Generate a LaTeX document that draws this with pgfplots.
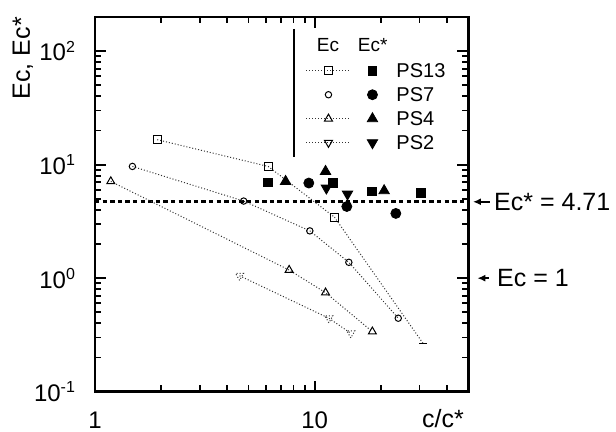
\documentclass[border=0pt]{standalone}
\usepackage{pgfplots}
\pgfplotsset{compat=1.18}
\usepackage{fontspec}
\setmainfont{Liberation Sans}
\usetikzlibrary{arrows.meta}
\pgfplotstableread{
x y
1.92 16.6
6.14 9.65
12.3 3.45
}\psopenA
\pgfplotstableread{
x y
1.48 9.65
4.75 4.78
9.5 2.61
14.3 1.38
24.0 0.444
}\psopenB
\pgfplotstableread{
x y
1.18 7.12
7.65 1.18
11.2 0.746
18.3 0.338
}\psopenC
\pgfplotstableread{
x y
4.55 1.05
11.6 0.444
14.6 0.327
}\psopenD
\pgfplotstableread{
x y
6.14 6.97
12.1 6.89
18.2 5.81
30.5 5.62
}\psfillA
\pgfplotstableread{
x y
9.4 6.89
14.0 4.28
23.4 3.72
}\psfillB
\pgfplotstableread{
x y
7.37 7.12
11.2 8.72
20.7 5.90
}\psfillC
\pgfplotstableread{
x y
11.3 6.22
14.1 5.51
}\psfillD
\begin{document}
\begin{tikzpicture}
\path[use as bounding box] (-47.5pt,-20.15pt) rectangle (260.5pt,195.85pt);
\begin{axis}[
  xmode=log, ymode=log,
  scale only axis, width=186.65pt, height=187.35pt,
  xmin=1, xmax=50, ymin=0.1, ymax=200,
  xtick={1,10}, xticklabels={1,10},
  minor xtick={2,3,4,5,6,7,8,9,20,30,40,50},
  ytick={0.1,1,10,100},
  yticklabels={10\textsuperscript{-1},10\textsuperscript{0},10\textsuperscript{1},10\textsuperscript{2}},
  minor ytick={0.2,0.3,0.4,0.5,0.6,0.7,0.8,0.9,2,3,4,5,6,7,8,9,20,30,40,50,60,70,80,90,200},
  tick align=inside,
  major tick length=5.5pt, minor tick length=3.2pt,
  every tick/.style={black, line width=0.9pt},
  axis line style={line width=1.3pt},
  tick label style={font=\fontsize{12}{14}\selectfont},
  xticklabel style={yshift=-6.5pt},
  yticklabel style={xshift=-6pt},
  xlabel={c/c*}, ylabel={Ec, Ec*},
  label style={font=\fontsize{12.5}{15}\selectfont},
  xlabel style={at={(axis description cs:0.932,-0.072)}, anchor=center, inner sep=0pt},
  ylabel style={at={(axis description cs:-0.193,0.89)}, anchor=center},
  clip=false,
  legend style={draw=none, fill=none, at={(axis description cs:0.548,0.895)}, anchor=north west,
    font=\fontsize{10}{12}\selectfont, row sep=2pt,
    nodes={inner sep=1pt, text height=7.2pt, text depth=0.8pt}},
  legend cell align=left,
  open/.style={densely dotted, line width=0.5pt, black!80, mark options={solid, black, fill=white, line width=0.5pt}},
]
% reference line Ec* = 4.71
\addplot[forget plot, black, line width=1.4pt, dash pattern=on 2.2pt off 1.6pt] coordinates {(1,4.71) (50,4.71)};
% Ec (open symbols)
\addplot[forget plot, open, mark=square, mark size=2pt] table {\psopenA};
\addplot[forget plot, densely dotted, line width=0.5pt, black!80] coordinates {(12.3,3.45) (31.1,0.267)};
\addplot[forget plot, only marks, mark=-, mark size=2pt, mark options={solid, black, line width=0.6pt}] coordinates {(31.1,0.267)};
\addplot[forget plot, open, mark=o, mark size=1.6pt] table {\psopenB};
\addplot[forget plot, open, mark=triangle, mark size=2.3pt] table {\psopenC};
\addplot[forget plot, open, mark=triangle, mark size=2.3pt, mark options={rotate=180}] table {\psopenD};
% Ec* (filled symbols)
\addplot[forget plot, only marks, mark=square*, mark size=2.2pt, black] table {\psfillA};
\addplot[forget plot, only marks, mark=*, mark size=2.5pt, black] table {\psfillB};
\addplot[forget plot, only marks, mark=triangle*, mark size=3pt, black] table {\psfillC};
\addplot[forget plot, only marks, mark=triangle*, mark size=3pt, black, mark options={rotate=180}] table {\psfillD};
% legend
\addlegendimage{legend image code/.code={
  \draw[densely dotted, line width=0.5pt, black!80] (0pt,0pt) -- (22pt,0pt);
  \draw[solid, line width=0.5pt, fill=white] plot[only marks, mark=square, mark size=2pt] coordinates {(11pt,0pt)};
  \fill[black] plot[only marks, mark=square*, mark size=2.2pt] coordinates {(33pt,0pt)};
  \path[draw=none, fill=none] (0pt,0pt) -- (44pt,0pt);}}
\addlegendentry{PS13}
\addlegendimage{legend image code/.code={
  \draw[solid, line width=0.5pt, fill=white] plot[only marks, mark=o, mark size=1.6pt] coordinates {(11pt,0pt)};
  \fill[black] plot[only marks, mark=*, mark size=2.5pt] coordinates {(33pt,0pt)};
  \path[draw=none, fill=none] (0pt,0pt) -- (44pt,0pt);}}
\addlegendentry{PS7}
\addlegendimage{legend image code/.code={
  \draw[densely dotted, line width=0.5pt, black!80] (0pt,0pt) -- (22pt,0pt);
  \draw[solid, line width=0.5pt, fill=white] plot[only marks, mark=triangle, mark size=2.3pt] coordinates {(11pt,0pt)};
  \fill[black] plot[only marks, mark=triangle*, mark size=3pt] coordinates {(33pt,0pt)};
  \path[draw=none, fill=none] (0pt,0pt) -- (44pt,0pt);}}
\addlegendentry{PS4}
\addlegendimage{legend image code/.code={
  \draw[densely dotted, line width=0.5pt, black!80] (0pt,0pt) -- (22pt,0pt);
  \draw[solid, line width=0.5pt, fill=white] plot[only marks, mark=triangle, mark size=2.3pt, mark options={rotate=180}] coordinates {(11pt,0pt)};
  \fill[black] plot[only marks, mark=triangle*, mark size=3pt, mark options={rotate=180}] coordinates {(33pt,0pt)};
  \path[draw=none, fill=none] (0pt,0pt) -- (44pt,0pt);}}
\addlegendentry{PS2}
% legend header and separator
\draw[line width=0.6pt] (axis description cs:0.533,0.968) -- (axis description cs:0.533,0.626);
\node[font=\fontsize{9.5}{11}\selectfont] at (axis description cs:0.624,0.925) {Ec};
\node[font=\fontsize{9.5}{11}\selectfont] at (axis description cs:0.744,0.925) {Ec*};
% right-hand annotations
\draw[line width=0.8pt, -{Latex[length=4pt,width=3.5pt]}] (axis cs:62.5,4.71) -- (axis cs:52.5,4.71);
\node[anchor=west, inner sep=1pt, font=\fontsize{12.5}{15}\selectfont] at (axis cs:64,4.71) {Ec* = 4.71};
\draw[line width=0.8pt, -{Latex[length=4pt,width=3.5pt]}] (axis cs:62,1) -- (axis cs:55,1);
\node[anchor=west, inner sep=1pt, font=\fontsize{12.5}{15}\selectfont] at (axis cs:66,1) {Ec = 1};
\end{axis}
\end{tikzpicture}
\end{document}
